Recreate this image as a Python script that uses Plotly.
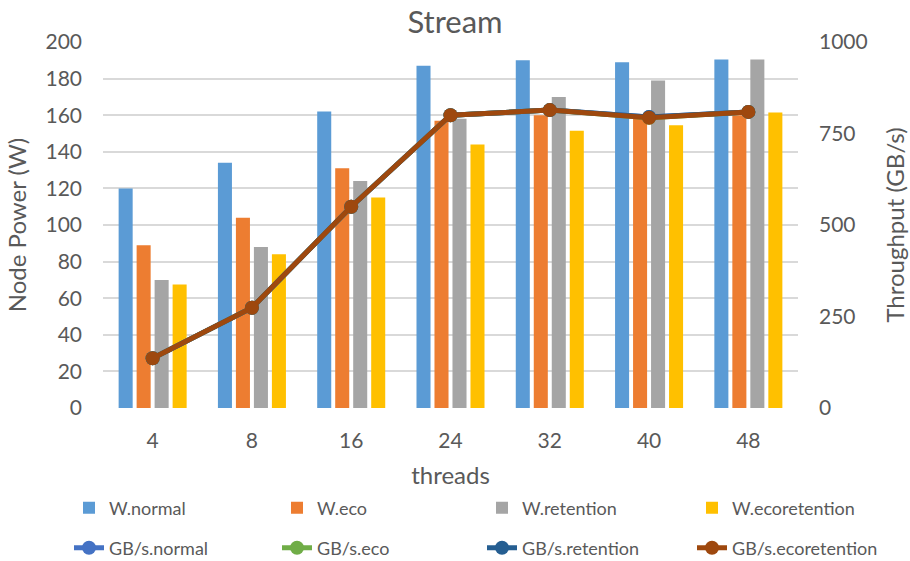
import plotly.graph_objects as go

threads = ["4", "8", "16", "24", "32", "40", "48"]

w_normal = [120, 134, 162, 187, 190, 189, 190.5]
w_eco = [89, 104, 131, 157, 160, 158, 160]
w_retention = [70, 88, 124, 158, 170, 179, 190.5]
w_ecoretention = [67.5, 84, 115, 144, 151.5, 154.5, 161.5]

gbs_normal = [136, 274, 550, 800, 814, 795, 809]
gbs_eco = [136, 274, 550, 800, 814, 793, 809]
gbs_retention = [136, 274, 550, 800, 814, 795, 809]
gbs_ecoretention = [136, 274, 550, 800, 814, 793, 809]

bar_series = [
    ("W.normal", w_normal, "#5B9BD5"),
    ("W.eco", w_eco, "#ED7D31"),
    ("W.retention", w_retention, "#A5A5A5"),
    ("W.ecoretention", w_ecoretention, "#FFC000"),
]
line_series = [
    ("GB/s.normal", gbs_normal, "#4472C4"),
    ("GB/s.eco", gbs_eco, "#70AD47"),
    ("GB/s.retention", gbs_retention, "#255E91"),
    ("GB/s.ecoretention", gbs_ecoretention, "#9E480E"),
]

FONT = "Lato, 'Open Sans', sans-serif"
GREY = "#595959"
W, H = 910, 561

# legend grid: four columns, bars on the first row, lines on the second
col_px = [69, 277, 482, 692]
row_px = [508, 548]

fig = go.Figure()
legends = {}
idx = 0
for row, series in enumerate([bar_series, line_series]):
    for col, (name, vals, color) in enumerate(series):
        idx += 1
        lid = "legend" if idx == 1 else f"legend{idx}"
        if row == 0:
            fig.add_trace(go.Bar(x=threads, y=vals, name=name, marker_color=color,
                                 marker_line_width=0, yaxis="y", legend=lid))
        else:
            fig.add_trace(go.Scatter(x=threads, y=vals, name=name,
                                     mode="lines+markers",
                                     line=dict(color=color, width=5),
                                     marker=dict(color=color, size=14),
                                     yaxis="y2", legend=lid))
        legends[lid] = dict(orientation="h", xref="container", yref="container",
                            x=col_px[col] / W, y=1 - row_px[row] / H,
                            xanchor="left", yanchor="middle",
                            font=dict(size=18, color=GREY),
                            bgcolor="rgba(0,0,0,0)")

fig.update_layout(
    width=W, height=H,
    margin=dict(l=103, r=112, t=42, b=153, autoexpand=False),
    paper_bgcolor="white", plot_bgcolor="white",
    font=dict(family=FONT, color=GREY, size=21),
    title=dict(text="Stream", x=0.5, xanchor="center", y=0.96, yanchor="middle",
               font=dict(size=31, color=GREY)),
    barmode="group", bargap=0.275, bargroupgap=0.22,
    xaxis=dict(type="category", showgrid=False, showline=False, ticks="",
               automargin=False, ticklabelstandoff=18,
               title=dict(text="threads", font=dict(size=24), standoff=29),
               tickfont=dict(size=21)),
    yaxis=dict(range=[0, 200], dtick=20, showgrid=True, gridcolor="#D9D9D9",
               gridwidth=1.5, zeroline=False, showline=False, ticks="",
               automargin=False, ticklabelstandoff=20,
               title=dict(text="Node Power (W)", font=dict(size=24), standoff=12),
               tickfont=dict(size=21)),
    yaxis2=dict(range=[0, 1000], dtick=250, overlaying="y", side="right",
                showgrid=False, zeroline=False, showline=False, ticks="",
                automargin=False, ticklabelstandoff=20,
                title=dict(text="Throughput (GB/s)", font=dict(size=24), standoff=20),
                tickfont=dict(size=21)),
    showlegend=True,
    **legends,
)

fig.write_html("out.html")
